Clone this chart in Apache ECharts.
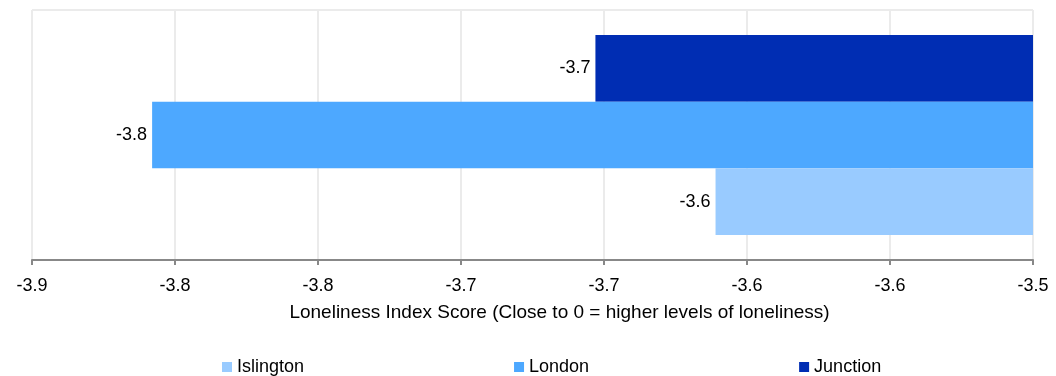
<!DOCTYPE html>
<html>
<head>
<meta charset="utf-8">
<script src="https://cdn.jsdelivr.net/npm/echarts@6/dist/echarts.min.js"></script>
<style>
  html, body { margin: 0; padding: 0; background: #fff; }
  #chart { width: 1056px; height: 376px; }
</style>
</head>
<body>
<div id="chart"></div>
<script>
// 数据
var categories = ['Score'];
var seriesNames = ['Islington', 'London', 'Junction'];
var islington = [-3.611];
var london = [-3.808];
var junction = [-3.653];
var tickLabels = ['-3.9', '-3.8', '-3.8', '-3.7', '-3.7', '-3.6', '-3.6', '-3.5'];
var colors = ['#99cbff', '#4da8ff', '#002db3'];

var myChart = echarts.init(document.getElementById('chart'));

var makeSeries = function (name, data, color) {
    return {
        name: name,
        type: 'bar',
        data: data,
        clip: true,
        barGap: 0,
        barCategoryGap: '20%',
        itemStyle: { color: color },
        label: {
            show: true,
            position: 'left',
            distance: 5,
            color: '#000',
            fontSize: 18,
            fontFamily: 'Liberation Sans',
            formatter: function (p) { return p.value.toFixed(1); }
        }
    };
};

myChart.setOption({
    animation: false,
    textStyle: { fontFamily: 'Liberation Sans' },
    grid: { left: 32, right: 23, top: 10, bottom: 116, containLabel: false },
    legend: {
        top: 353,
        left: 217,
        itemGap: 210,
        itemWidth: 10,
        itemHeight: 10,
        icon: 'rect',
        textStyle: { fontSize: 18, color: '#000', fontFamily: 'Liberation Sans' },
        data: seriesNames
    },
    xAxis: {
        type: 'value',
        min: -3.85,
        max: -3.5,
        interval: 0.05,
        name: 'Loneliness Index Score (Close to 0 = higher levels of loneliness)',
        nameLocation: 'middle',
        nameGap: 43,
        nameTextStyle: { fontSize: 19, color: '#000', padding: [0, 0, 0, 54] },
        axisLine: { show: true, lineStyle: { color: '#888', width: 2 } },
        axisTick: { show: true, length: 5, lineStyle: { color: '#888', width: 2 } },
        axisLabel: {
            fontSize: 18,
            color: '#000',
            margin: 17,
            formatter: function (v, i) { return tickLabels[i]; }
        },
        splitLine: { show: true, lineStyle: { color: '#ebebeb', width: 2 } }
    },
    yAxis: {
        type: 'category',
        data: categories,
        axisLine: { show: false },
        axisTick: { show: false },
        axisLabel: { show: false },
        splitLine: { show: true, lineStyle: { color: '#ebebeb', width: 2 } }
    },
    // 第一个系列画在最上面，所以倒序放
    series: [
        makeSeries(seriesNames[2], junction, colors[2]),
        makeSeries(seriesNames[1], london, colors[1]),
        makeSeries(seriesNames[0], islington, colors[0])
    ]
});
</script>
</body>
</html>
